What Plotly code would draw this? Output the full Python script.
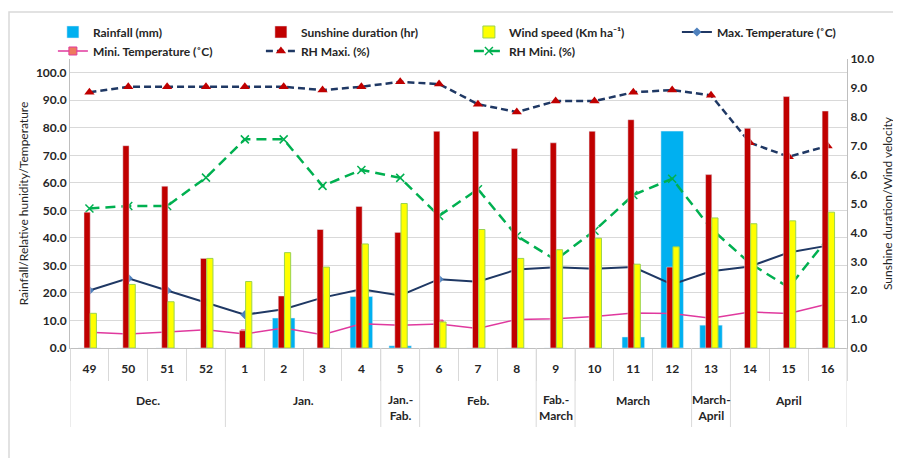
import plotly.graph_objects as go

weeks = ["49", "50", "51", "52", "1", "2", "3", "4", "5", "6", "7", "8", "9", "10",
         "11", "12", "13", "14", "15", "16"]
months = ["Dec.", "Dec.", "Dec.", "Dec.", "Jan.", "Jan.", "Jan.", "Jan.", "Jan.-<br>Fab.",
          "Feb.", "Feb.", "Feb.", "Fab.-<br>March", "March", "March", "March",
          "March-<br>April", "April", "April", "April"]

rainfall = [0, 0, 0, 0, 0, 10.9, 0, 18.7, 0.8, 0, 0, 0, 0, 0, 4.0, 78.8, 8.3, 0, 0, 0]
sunshine = [4.7, 7.0, 5.6, 3.1, 0.6, 1.8, 4.1, 4.9, 4.0, 7.5, 7.5, 6.9, 7.1, 7.5, 7.9, 2.8, 6.0, 7.6, 8.7, 8.2]
wind = [1.2, 2.2, 1.6, 3.1, 2.3, 3.3, 2.8, 3.6, 5.0, 0.9, 4.1, 3.1, 3.4, 3.8, 2.9, 3.5, 4.5, 4.3, 4.4, 4.7]
max_temp = [20.9, 25.3, 20.9, 16.6, 12.1, 14.1, 18.3, 21.3, 19.1, 25.0, 24.1, 28.5, 29.3, 28.8, 29.4, 23.1, 27.9, 29.6, 34.7, 37.2]
min_temp = [5.7, 5.1, 5.8, 6.6, 5.1, 7.3, 4.8, 8.8, 8.3, 8.7, 7.1, 10.4, 10.6, 11.4, 12.7, 12.5, 10.8, 13.1, 12.5, 16.0]
rh_max = [92.9, 94.9, 94.9, 94.9, 94.9, 94.9, 93.7, 94.9, 96.7, 95.9, 88.6, 85.7, 89.7, 89.7, 92.9, 93.7, 91.8, 74.6, 69.5, 73.4]
rh_min = [50.7, 51.6, 51.6, 61.9, 75.8, 75.8, 58.9, 64.7, 61.8, 48.0, 57.7, 40.7, 32.0, 42.6, 55.6, 61.5, 43.4, 30.8, 22.0, 39.7]

FONT = "Lato"
TXT = "#262626"
GRID = "#D9D9D9"

fig = go.Figure()
fig.add_trace(go.Bar(x=weeks, y=rainfall, name="Rainfall (mm)", marker_color="#00B0F0",
                     width=0.58, offset=-0.29, yaxis="y"))
fig.add_trace(go.Bar(x=weeks, y=sunshine, name="Sunshine duration (hr)", marker_color="#C00000",
                     width=0.16, offset=-0.14, yaxis="y2"))
fig.add_trace(go.Bar(x=weeks, y=wind, name="Wind speed (Km ha⁻¹)", marker_color="#FFFF00",
                     marker_line=dict(color="#9BD34F", width=1),
                     width=0.16, offset=0.02, yaxis="y2"))
fig.add_trace(go.Scatter(x=weeks, y=max_temp, name="Max. Temperature (˚C)", mode="lines+markers",
                         line=dict(color="#1F3864", width=2),
                         marker=dict(symbol="diamond", size=7, color="#4F81BD"), yaxis="y"))
fig.add_trace(go.Scatter(x=weeks, y=min_temp, name="Mini. Temperature (˚C)", mode="lines+markers",
                         line=dict(color="#E0399E", width=1.5),
                         marker=dict(symbol="square", size=8, color="#EE7B5E",
                                     line=dict(color="#E0399E", width=1)), yaxis="y"))
fig.add_trace(go.Scatter(x=weeks, y=rh_max, name="RH Maxi. (%)", mode="lines+markers",
                         line=dict(color="#1F3864", width=2.5, dash="7px,4px"),
                         marker=dict(symbol="triangle-up", size=9, color="#C00000"), yaxis="y"))
fig.add_trace(go.Scatter(x=weeks, y=rh_min, name="RH Mini. (%)", mode="lines+markers",
                         line=dict(color="#00B050", width=2.5, dash="10px,6px"),
                         marker=dict(symbol="x-thin", size=8, line=dict(color="#00B050", width=1.5)),
                         yaxis="y"))

# month groups: label centred on its run of weeks, dividers at group boundaries
groups = []
for i, m in enumerate(months):
    if groups and groups[-1][0] == m:
        groups[-1][2] = i
    else:
        groups.append([m, i, i])

PLOT_W = 777
PLOT_H = 289
annotations = []
shapes = []
for name, i0, i1 in groups:
    annotations.append(dict(x=(i0 + i1) / 2, xref="x", y=0, yref="paper", yanchor="top",
                            yshift=-42 if "<br>" in name else -43, text=name, showarrow=False,
                            font=dict(family=FONT, size=12, color=TXT, weight="bold")))
    shapes.append(dict(type="line", xref="x", yref="paper", x0=i0 - 0.5, x1=i0 - 0.5,
                       y0=0, y1=-79 / PLOT_H, line=dict(color=GRID, width=1)))
shapes.append(dict(type="line", xref="x", yref="paper", x0=len(weeks) - 0.5, x1=len(weeks) - 0.5,
                   y0=0, y1=-79 / PLOT_H, line=dict(color=GRID, width=1)))
shapes.append(dict(type="rect", xref="paper", yref="paper", x0=-61 / PLOT_W, x1=1.2, y0=-1.0,
                   y1=1 + 47 / PLOT_H, line=dict(color=GRID, width=1.5),
                   fillcolor="rgba(0,0,0,0)", layer="below"))

fig.update_layout(
    width=901, height=458,
    margin=dict(l=62, r=62, t=51, b=118, autoexpand=False),
    paper_bgcolor="white", plot_bgcolor="white",
    font=dict(family=FONT, size=12, color=TXT),
    barmode="overlay",
    showlegend=True,
    legend=dict(orientation="h", x=-0.022, xanchor="left", y=1.1436, yanchor="top",
                entrywidth=163, entrywidthmode="pixels", traceorder="normal",
                font=dict(family=FONT, size=12, color=TXT, weight="bold"),
                bgcolor="rgba(0,0,0,0)", itemwidth=30, tracegroupgap=0),
    xaxis=dict(type="category", range=[-0.5, len(weeks) - 0.5], showgrid=False,
               showline=True, linecolor="#BFBFBF",
               ticks="outside", ticklen=32, tickcolor=GRID, tickson="boundaries",
               ticklabelstandoff=10,
               tickfont=dict(family=FONT, size=12, color=TXT, weight="bold")),
    yaxis=dict(range=[0, 105], dtick=10, tick0=0, tickformat=".1f", showgrid=True,
               gridcolor=GRID, showline=True, linecolor="#BFBFBF", zeroline=False,
               ticks="", automargin=False,
               tickfont=dict(family=FONT, size=12, color=TXT, weight="bold"),
               title=dict(text="Rainfall/Relative hunidity/Temperature",
                          font=dict(family=FONT, size=12, color=TXT), standoff=4)),
    yaxis2=dict(range=[0, 10], dtick=1, tick0=0, tickformat=".1f", overlaying="y", side="right",
                showgrid=False, showline=True, linecolor="#BFBFBF", zeroline=False,
                automargin=False,
                tickfont=dict(family=FONT, size=12, color=TXT, weight="bold"),
                title=dict(text="Sunshine duration/Wind velocity",
                           font=dict(family=FONT, size=12, color=TXT), standoff=10)),
    annotations=annotations,
    shapes=shapes,
)

fig.write_html("out.html")
